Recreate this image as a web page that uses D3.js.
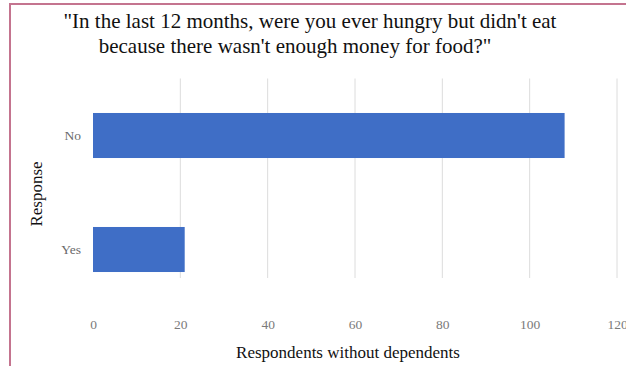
<!DOCTYPE html>
<html>
<head>
<meta charset="utf-8">
<script src="https://cdn.jsdelivr.net/npm/d3@7"></script>
<style>
  body { margin: 0; background: #fff; }
  svg { display: block; }
</style>
</head>
<body>
<div id="chart"></div>
<script>
// chart data
var categories = ["No", "Yes"];
var counts = [108, 21];
var xTicks = [0, 20, 40, 60, 80, 100, 120];
var titleLines = ["\"In the last 12 months, were you ever hungry but didn't eat",
                  "because there wasn't enough money for food?\""];

var full_width = 626, full_height = 366;
var plot = {left: 93, right: 617, top: 78.5, bottom: 306.5, gridBottom: 278};
var serif = "'Liberation Serif', 'DejaVu Serif', 'Times New Roman', serif";

var svg = d3.select("#chart")
    .append("svg")
    .attr("width", full_width)
    .attr("height", full_height);

// frame (left + top border of the pasted chart)
svg.append("line")
    .attr("x1", 10).attr("x2", 10).attr("y1", 3).attr("y2", full_height)
    .attr("stroke", "#c4748f").attr("stroke-width", 2);
svg.append("line")
    .attr("x1", 9).attr("x2", full_width).attr("y1", 4).attr("y2", 4)
    .attr("stroke", "#c4748f").attr("stroke-width", 2);

// title, two centred lines
var titleX = [310, 295];
svg.append("g").selectAll("text")
    .data(titleLines)
    .enter().append("text")
    .attr("x", function(d, i) { return titleX[i]; })
    .attr("y", function(d, i) { return 28 + i * 25; })
    .attr("text-anchor", "middle")
    .style("font-family", serif)
    .style("font-size", "21px")
    .style("fill", "#111")
    .text(function(d) { return d; });

// scales
var x = d3.scaleLinear()
    .domain([0, 120])
    .range([plot.left, plot.right]);

var y = d3.scaleBand()
    .domain(categories)
    .range([plot.top, plot.bottom])
    .paddingInner(0.605)
    .paddingOuter(0.3025);

// gridlines
svg.append("g").selectAll("line")
    .data(xTicks.filter(function(d) { return d > 0; }))
    .enter().append("line")
    .attr("x1", function(d) { return x(d); })
    .attr("x2", function(d) { return x(d); })
    .attr("y1", plot.top)
    .attr("y2", plot.gridBottom)
    .attr("stroke", "#dcdcdc")
    .attr("stroke-width", 1);

// bars
svg.append("g").selectAll("rect")
    .data(categories)
    .enter().append("rect")
    .attr("x", x(0))
    .attr("y", function(d) { return y(d); })
    .attr("width", function(d, i) { return x(counts[i]) - x(0); })
    .attr("height", y.bandwidth())
    .attr("fill", "#3f6ec6");

// x axis tick labels
var xAxis = svg.append("g")
    .attr("transform", "translate(0,329)")
    .call(d3.axisBottom(x).tickValues(xTicks).tickSize(0).tickPadding(0));
xAxis.attr("font-family", null);
xAxis.select(".domain").remove();
xAxis.selectAll("text")
    .attr("dy", 0)
    .style("font-family", serif)
    .style("font-size", "13.5px")
    .style("fill", "#7a7a7a");

// y axis category labels
var yAxis = svg.append("g")
    .attr("transform", "translate(81,0)")
    .call(d3.axisLeft(y).tickSize(0).tickPadding(0));
yAxis.attr("font-family", null);
yAxis.select(".domain").remove();
yAxis.selectAll("text")
    .style("font-family", serif)
    .style("font-size", "13.5px")
    .style("fill", "#6a6a6a");

// axis titles
svg.append("text")
    .attr("x", 348)
    .attr("y", 358)
    .attr("text-anchor", "middle")
    .style("font-family", serif)
    .style("font-size", "17px")
    .style("fill", "#111")
    .text("Respondents without dependents");

svg.append("text")
    .attr("transform", "translate(42,194) rotate(-90)")
    .attr("text-anchor", "middle")
    .style("font-family", serif)
    .style("font-size", "17px")
    .style("fill", "#111")
    .text("Response");
</script>
</body>
</html>
